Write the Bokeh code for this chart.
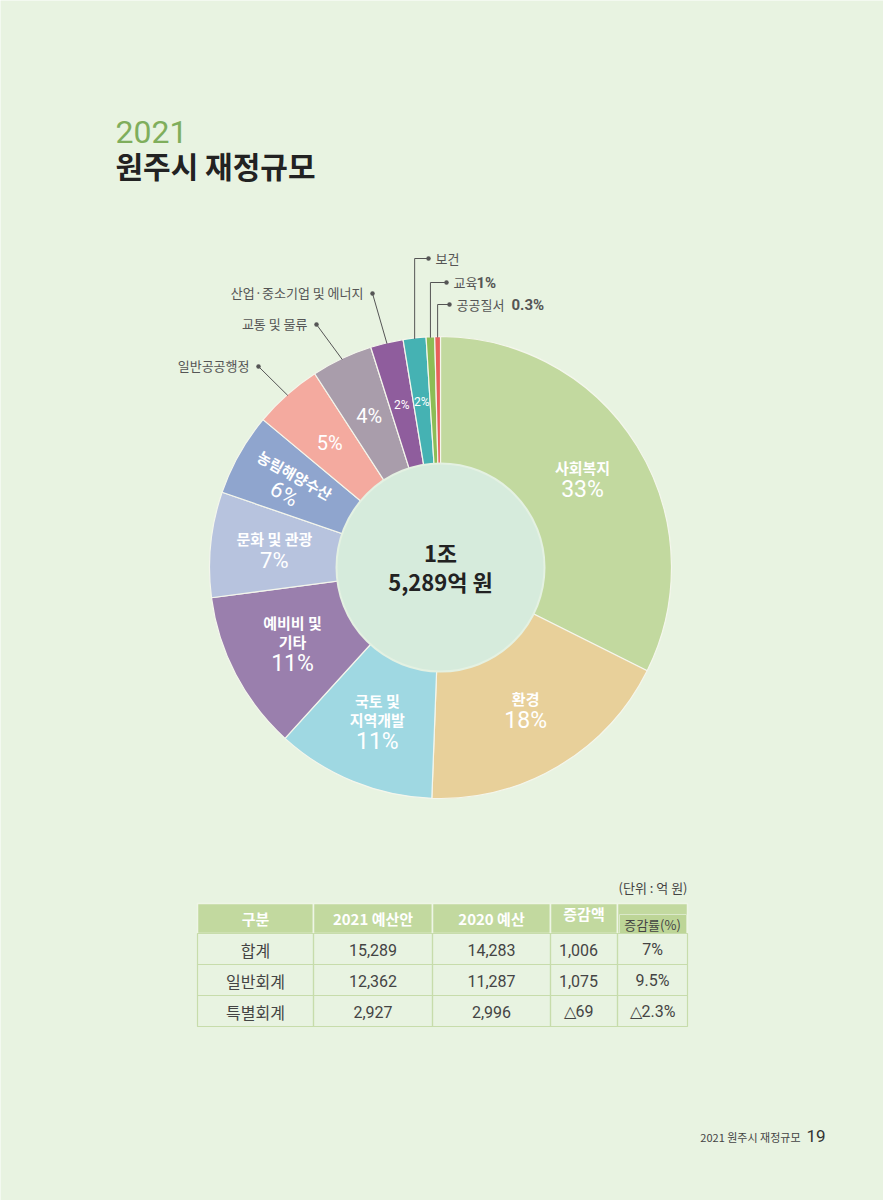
import math
from bokeh.plotting import figure
from bokeh.models import Range1d
from bokeh.core.properties import value
from bokeh.embed import file_html
from bokeh.resources import INLINE

# ---------------- data ----------------
categories = ["사회복지", "환경", "국토 및\n지역개발", "예비비 및\n기타", "문화 및 관광",
              "농림해양수산", "일반공공행정", "교통 및 물류", "산업·중소기업 및 에너지",
              "보건", "교육", "공공질서"]
shares = [32.5, 18.3, 11.2, 11.2, 7.4, 5.8, 4.8, 4.3, 2.3, 1.6, 0.6, 0.4]
pct_labels = ["33%", "18%", "11%", "11%", "7%", "6%", "5%", "4%", "2%", "2%", "1%", "0.3%"]

headers = ["구분", "2021 예산안", "2020 예산", "증감액", "증감률(%)"]
rows = ["합계", "일반회계", "특별회계"]
budget_2021 = [15289, 12362, 2927]
budget_2020 = [14283, 11287, 2996]
change_amt = [1006, 1075, -69]
change_rate = [7, 9.5, -2.3]

# ---------------- styles ----------------
colors = ["#c2d99f", "#e8d09a", "#9fd8e2", "#9a7fad", "#b7c3de", "#8fa5ce",
          "#f4aa9f", "#a99dab", "#8f5d9d", "#45b2b3", "#8cbd56", "#e8605b"]
FONT = value("Noto Sans CJK KR")
NUMF = value("Roboto")
BG = "#e8f3e1"
W, H = 883, 1200


def Y(py):
    return H - py


p = figure(width=W, height=H, x_range=Range1d(0, W), y_range=Range1d(0, H),
           output_backend="svg", toolbar_location=None, min_border=0)
p.axis.visible = False
p.grid.visible = False
p.outline_line_color = None
p.background_fill_color = BG
p.border_fill_color = BG

# ---------------- title ----------------
p.text(x=[115], y=[Y(131)], text=["2021"], text_font=NUMF, text_font_size="32px",
       text_color="#7fae5c", text_baseline="middle", text_align="left")
p.text(x=[115], y=[Y(164)], text=["원주시 재정규모"], text_font=FONT, text_font_size="30px",
       text_font_style="bold", text_color="#222222", text_baseline="middle", text_align="left")

# ---------------- donut ----------------
cx, cy = 440, Y(567)
R, r_in = 231, 104
total = sum(shares)
starts, ends, mids = [], [], []
cum = 0.0
for s in shares:
    a0 = cum / total
    cum += s
    a1 = cum / total
    starts.append(math.pi / 2 - 2 * math.pi * a0)
    ends.append(math.pi / 2 - 2 * math.pi * a1)
    mids.append(2 * math.pi * (a0 + a1) / 2)  # clockwise from top

p.wedge(x=[cx] * len(shares), y=[cy] * len(shares), radius=R, start_angle=starts,
        end_angle=ends, direction="clock", fill_color=colors, line_color="#f4f6ec",
        line_width=1.2)
p.circle(x=[cx], y=[cy], radius=r_in, fill_color="#d6ebdc", line_color="#e4f1e2",
         line_width=2)

p.text(x=[cx], y=[Y(551)], text=["1조"], text_font=FONT, text_font_size="22px",
       text_font_style="bold", text_color="#222222", text_align="center", text_baseline="middle")
p.text(x=[cx], y=[Y(580)], text=["5,289억 원"], text_font=FONT, text_font_size="22px",
       text_font_style="bold", text_color="#222222", text_align="center", text_baseline="middle")

# in-slice labels
show_name = [True, True, True, True, True, True, False, False, False, False, False, False]
show_pct = [True] * 10 + [False, False]
pct_size = [23, 23, 23, 23, 22, 22, 20, 20, 12, 12, 0, 0]
rotated = [False] * 5 + [True] + [False] * 6
r_lab = 167
for i, cat in enumerate(categories):
    if not show_pct[i]:
        continue
    th = mids[i]
    mx = cx + r_lab * math.sin(th)
    my = cy + r_lab * math.cos(th)
    rot = 0.0
    if rotated[i]:
        rot = -(math.degrees(th) - 270)
        mx -= 6
    ra = math.radians(rot)
    ux, uy = -math.sin(ra), math.cos(ra)  # "up" vector in rotated frame
    lines = cat.split("\n") if show_name[i] else []
    lh = 19
    ph = pct_size[i] + 2
    block = lh * len(lines) + ph
    top = block / 2.0
    for k, ln in enumerate(lines):
        off = top - lh * k - lh / 2.0
        p.text(x=[mx + ux * off], y=[my + uy * off], text=[ln], angle=ra, text_font=FONT,
               text_font_size="15px", text_font_style="bold", text_color="#ffffff",
               text_align="center", text_baseline="middle")
    off = top - lh * len(lines) - ph / 2.0
    p.text(x=[mx + ux * off], y=[my + uy * off], text=[pct_labels[i]], angle=ra, text_font=NUMF,
           text_font_size=f"{pct_size[i]}px", text_color="#ffffff",
           text_align="center", text_baseline="middle")

# callouts
callouts = {
    6: ("diag", 258, 366),
    7: ("diag", 316, 324),
    8: ("diag", 372, 293),
    9: ("elbow", 428, 258),
    10: ("elbow", 446, 282),
    11: ("elbow", 449, 304),
}
suffix = {10: ("1%", 23), 11: ("0.3%", 55)}
LC = "#555555"
for i, (kind, dx, dy) in callouts.items():
    th = mids[i]
    ex = cx + (R - 1) * math.sin(th)
    ey = cy + (R - 1) * math.cos(th)
    if kind == "diag":
        p.line(x=[ex, dx], y=[ey, Y(dy)], line_color=LC, line_width=1)
        p.text(x=[dx - 9], y=[Y(dy - 1)], text=[categories[i]], text_font=FONT,
               text_font_size="13px", text_color=LC, text_align="right", text_baseline="middle")
    else:
        p.line(x=[ex, ex, dx], y=[ey, Y(dy), Y(dy)], line_color=LC, line_width=1)
        p.text(x=[dx + 7], y=[Y(dy)], text=[categories[i]], text_font=FONT,
               text_font_size="13px", text_color=LC, text_align="left", text_baseline="middle")
        if i in suffix:
            s, w = suffix[i]
            p.text(x=[dx + 7 + w], y=[Y(dy)], text=[pct_labels[i]], text_font=NUMF,
                   text_font_size="15px", text_font_style="bold", text_color=LC,
                   text_align="left", text_baseline="middle")
    p.scatter(x=[dx], y=[Y(dy)], size=4.5, marker="circle", fill_color=LC, line_color=None)

# ---------------- table ----------------
col_edges = [197, 313, 432, 550, 617, 687]
head_top, head_bot, row_h = 903, 933, 31
HEAD = "#c2d99f"
GRID = "#c7dcab"
TC = "#444444"

p.text(x=[687], y=[Y(887)], text=["(단위 : 억 원)"], text_font=FONT, text_font_size="13px",
       text_color=TC, text_align="right", text_baseline="middle")

# header cells
p.quad(left=col_edges[:-1], right=col_edges[1:], top=[Y(head_top)] * 5,
       bottom=[Y(head_bot)] * 5, fill_color=HEAD, line_color="#eef5e6", line_width=1.5)
p.quad(left=[619], right=[686], top=[Y(914)], bottom=[Y(933)], fill_color="#bdd597",
       line_color="#dbe9ca", line_width=1)
for j, h in enumerate(headers):
    xc = (col_edges[j] + col_edges[j + 1]) / 2
    if j == 4:
        p.text(x=[652], y=[Y(924)], text=[h], text_font=FONT, text_font_size="13px",
               text_color=TC, text_align="center", text_baseline="middle")
    else:
        yy = 913 if j == 3 else 918
        p.text(x=[xc], y=[Y(yy)], text=[h], text_font=FONT, text_font_size="15px",
               text_font_style="bold", text_color="#ffffff", text_align="center",
               text_baseline="middle")


def fmt_num(v):
    return ("△" if v < 0 else "") + f"{abs(v):,}"


def fmt_rate(v):
    return ("△" if v < 0 else "") + f"{abs(v):g}%"


for k in range(len(rows)):
    t = head_bot + row_h * k
    b = t + row_h
    p.quad(left=col_edges[:-1], right=col_edges[1:], top=[Y(t)] * 5, bottom=[Y(b)] * 5,
           fill_color=None, line_color=GRID, line_width=1.2)
    cells = [rows[k], fmt_num(budget_2021[k]), fmt_num(budget_2020[k]),
             fmt_num(change_amt[k]), fmt_rate(change_rate[k])]
    for j, c in enumerate(cells):
        xc = (col_edges[j] + col_edges[j + 1]) / 2
        if j == 3:
            xc = 578
        p.text(x=[xc], y=[Y(t + 16)], text=[c], text_font=FONT if j == 0 else NUMF,
               text_font_size="16px", text_color=TC, text_align="center",
               text_baseline="middle")

# ---------------- footer ----------------
p.text(x=[800], y=[Y(1136)], text=["2021 원주시 재정규모"], text_font=FONT,
       text_font_size="11px", text_color="#444444", text_align="right", text_baseline="middle")
p.text(x=[806], y=[Y(1135)], text=["19"], text_font=NUMF, text_font_size="17px",
       text_color="#333333", text_align="left", text_baseline="middle")

open("out.html", "w").write(file_html(p, INLINE))
